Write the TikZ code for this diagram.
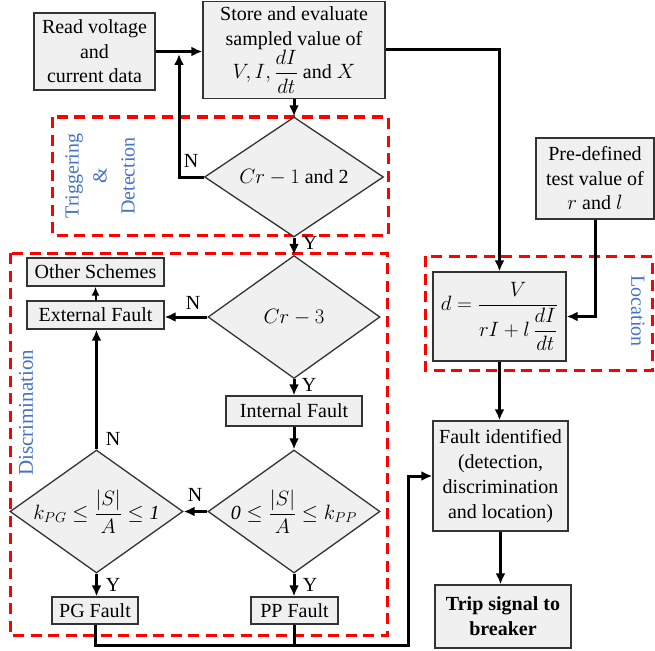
\documentclass[tikz,border=0pt]{standalone}
\usepackage{amsmath}
\usepackage{fontspec}
\setmainfont{Liberation Serif}
\usetikzlibrary{shapes.geometric,arrows.meta}
\definecolor{boxfill}{RGB}{240,240,240}
\definecolor{lblue}{RGB}{68,114,196}
\definecolor{dred}{RGB}{255,0,0}
\begin{document}
\begin{tikzpicture}[x=1pt,y=-1pt, font=\fontsize{20}{24.5}\selectfont,
 box/.style={draw=black!80, line width=1.3pt, fill=boxfill, align=center, inner sep=0pt},
 dia/.style={diamond, draw=black!80, line width=1.3pt, fill=boxfill, inner sep=0pt},
 arr/.style={line width=3pt, -{Latex[length=11pt,width=10pt]}},
 thinarr/.style={line width=2pt, -{Latex[length=9pt,width=8pt]}},
 ln/.style={line width=3pt},
 region/.style={draw=dred, line width=3pt, dash pattern=on 11pt off 6.5pt},
 lab/.style={text=lblue, align=center},
 yn/.style={inner sep=0pt}]
\useasboundingbox (0,0) rectangle (655,650);
% regions
\draw[region] (52,117) rectangle (388,235);
\draw[region] (10,253) rectangle (387,635);
\draw[region] (425,256) rectangle (652,370);
% nodes
\node[box, minimum width=121, minimum height=77] (read) at (94.5,51.5) {Read voltage\\and\\current data};
\node[box, minimum width=182, minimum height=97] (store) at (294,50) {Store and evaluate\\sampled value of\\$V, I, \dfrac{dI}{dt}$ and $X$};
\node[dia, minimum width=179, minimum height=120] (c12) at (294,177) {};
\node at (c12) {$Cr-1$ and 2};
\node[dia, minimum width=172, minimum height=123] (c3) at (294,317) {};
\node at (c3) {$Cr-3$};
\node[box, minimum width=137, minimum height=28] (other) at (95.5,272) {Other Schemes};
\node[box, minimum width=137, minimum height=28] (ext) at (95.5,315) {External Fault};
\node[box, minimum width=136, minimum height=30] (int) at (294,411) {Internal Fault};
\node[dia, minimum width=173, minimum height=123] (kpg) at (96.5,511.5) {};
\node at (kpg) {$k_{PG} \le \dfrac{|S|}{A} \le \text{\itshape 1}$};
\node[dia, minimum width=172, minimum height=123] (kpp) at (294,511.5) {};
\node at (kpp) {$\text{\itshape 0} \le \dfrac{|S|}{A} \le k_{PP}$};
\node[box, minimum width=86, minimum height=27] (pg) at (95,610.5) {PG Fault};
\node[box, minimum width=87, minimum height=27] (pp) at (294.5,610.5) {PP Fault};
\node[box, minimum width=118, minimum height=81] (pre) at (595,178.5) {Pre-defined\\test value of\\$r$ and $l$};
\node[box, minimum width=133, minimum height=89] (loc) at (499.5,316.5) {$d = \dfrac{V}{rI + l\,\dfrac{dI}{dt}}$};
\node[box, minimum width=135, minimum height=110, font=\fontsize{20}{25}\selectfont] (fid) at (500.5,476) {Fault identified\\(detection,\\discrimination\\and location)};
\node[box, minimum width=136, minimum height=63, font=\fontsize{20}{25}\selectfont\bfseries] (trip) at (503,616.5) {Trip signal to\\breaker};
% region labels
\node[lab, rotate=90, font=\fontsize{20}{28}\selectfont] (tdl) at (100,176) {Triggering\\\&\\Detection};
\node[lab, rotate=90, font=\fontsize{21}{25}\selectfont] (dl) at (26,413) {Discrimination};
\node[lab, rotate=-90] (ll) at (638,311) {Location};
% connectors
\coordinate (j1) at (179,54);
\draw[arr] (read.east) -- (read.east -| store.west);
\draw[arr] (c12.west) -| (j1);
\node[yn] (n1) at (191,161) {N};
\draw[arr] (store.south) -- (c12.north);
\draw[arr] (c12.south) -- (c3.north);
\node[yn] (y1) at (310,243) {Y};
\draw[arr] (c3.west) -- (c3.west -| ext.east);
\node[yn] (n2) at (193,303) {N};
\draw[thinarr] (ext.north) -- (other.south);
\draw[arr] (c3.south) -- (int.north);
\node[yn] (y2) at (309,385) {Y};
\draw[arr] (int.south) -- (kpp.north);
\draw[arr] (kpp.west) -- (kpg.east);
\node[yn] (n3) at (195,495) {N};
\draw[arr] (kpg.north) -- (kpg.north |- ext.south);
\node[yn] (n4) at (113,439) {N};
\draw[arr] (kpg.south) -- (kpg.south |- pg.north);
\node[yn] (y3) at (113,585) {Y};
\draw[arr] (kpp.south) -- (kpp.south |- pp.north);
\node[yn] (y4) at (310,585) {Y};
\coordinate (b1) at (408,645);
\draw[arr] (pg.south) |- (b1) |- (fid.west);
\draw[ln] (pp.south) -- (pp.south |- b1);
\draw[arr] (store.east) -| (loc.north);
\draw[arr] (pre.south) |- (loc.east);
\draw[arr] (loc.south) -- (loc.south |- fid.north);
\draw[arr] (fid.south) -- (fid.south |- trip.north);
\end{tikzpicture}
\end{document}
